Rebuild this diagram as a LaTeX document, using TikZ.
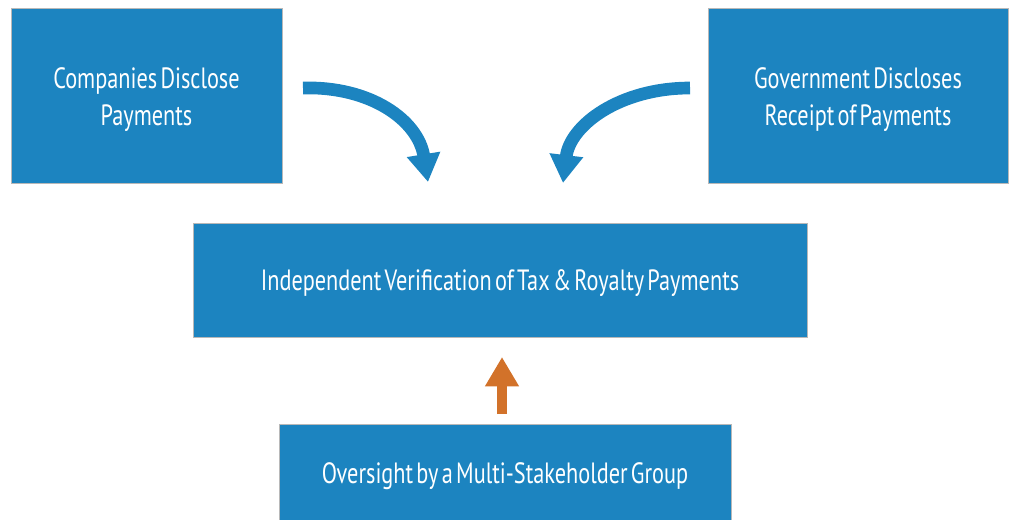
\documentclass[tikz,border=0pt]{standalone}
\usepackage{fontspec}
\setmainfont{PT Sans}[WordSpace=0.55]
\usetikzlibrary{arrows.meta}
\definecolor{boxblue}{HTML}{1C84C0}
\definecolor{arrorange}{HTML}{D2722A}
\definecolor{edgegray}{HTML}{B8B8B8}
\newcommand{\cond}[1]{\scalebox{0.76}[1]{#1}}
\tikzset{
  bluebox/.style={draw=edgegray, line width=0.6pt, fill=boxblue, inner sep=0pt},
  boxtext/.style={text=white, inner sep=0pt, align=center,
    font=\fontsize{22}{27.75}\selectfont},
  curvearrow/.style={draw=boxblue, line width=9.5pt,
    -{Triangle[length=21pt,width=24pt]}},
  uparrow/.style={draw=arrorange, line width=7.5pt,
    -{Triangle[length=22pt,width=24pt]}}
}
\begin{document}
\begin{tikzpicture}[x=0.75pt,y=-0.75pt]
\useasboundingbox (0,0) rectangle (1014,519);
\node[bluebox, minimum width=271*0.75pt, minimum height=175*0.75pt] (comp) at (146.5,96) {};
\node[bluebox, minimum width=300*0.75pt, minimum height=175*0.75pt] (gov) at (858,96) {};
\node[bluebox, minimum width=614*0.75pt, minimum height=114*0.75pt] (ver) at (500,280) {};
\node[bluebox, minimum width=452*0.75pt, minimum height=100*0.75pt] (msg) at (505,474) {};
\node[boxtext] (compt) at ([yshift=-2.5pt]comp.center) {\cond{Companies Disclose}\\\cond{Payments}};
\node[boxtext] (govt) at ([yshift=-2.5pt]gov.center) {\cond{Government Discloses}\\\cond{Receipt of Payments}};
\node[boxtext] (vert) at ([yshift=-2.5pt]ver.center) {\cond{Independent Verification of Tax \& Royalty Payments}};
\node[boxtext] (msgt) at ([yshift=-1.5pt]msg.center) {\cond{Oversight by a Multi-Stakeholder Group}};
\coordinate (a1s) at (303,88);
\coordinate (a1e) at (428,182);
\coordinate (a2s) at (690,88);
\coordinate (a2e) at (563,183);
\coordinate (a3s) at (502,414);
\coordinate (a3e) at (502,357);
\draw[curvearrow] (a1s) .. controls (370,86) and (418,120) .. (a1e);
\draw[curvearrow] (a2s) .. controls (620,88) and (570,125) .. (a2e);
\draw[uparrow] (a3s) -- (a3e);
\end{tikzpicture}
\end{document}
